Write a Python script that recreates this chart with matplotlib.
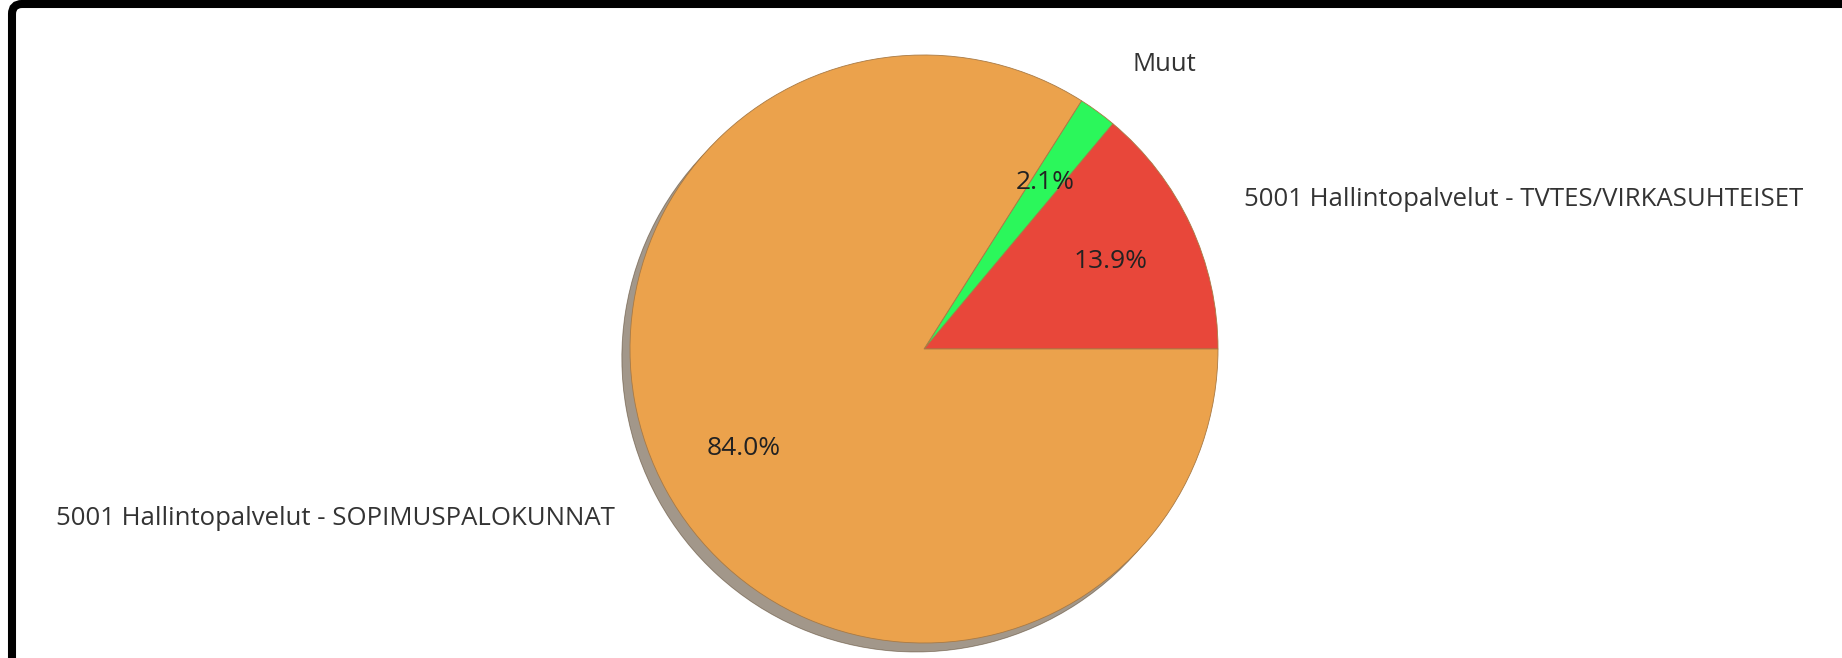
import matplotlib
matplotlib.use("Agg")
import matplotlib.pyplot as plt
from matplotlib.patches import FancyBboxPatch

# Data
labels = ["5001 Hallintopalvelut - TVTES/VIRKASUHTEISET", "Muut",
          "5001 Hallintopalvelut - SOPIMUSPALOKUNNAT"]
shares = [13.9, 2.1, 84.0]
colors = ["#E8473A", "#2BF75B", "#EBA24C"]

plt.rcParams["font.family"] = ["Open Sans", "DejaVu Sans"]

fig = plt.figure(figsize=(18.42, 6.58), dpi=100)
W, H = 1842, 658

# pie centre and radius in pixels
cx, cy, r = 924, 349, 294
span = 1.25
ax = fig.add_axes([(cx - span * r) / W, (H - cy - span * r) / H,
                   2 * span * r / W, 2 * span * r / H])

wedges, texts, autotexts = ax.pie(
    shares, labels=labels, colors=colors, startangle=0, counterclock=True,
    autopct="%1.1f%%", pctdistance=0.7, labeldistance=1.2,
    shadow={"ox": -0.02, "oy": -0.022, "shade": 0.7},
    wedgeprops={"edgecolor": "#a87a45", "linewidth": 0.6},
    textprops={"fontsize": 18.5, "color": "#333333"})
for t in autotexts:
    t.set_color("#222222")
    t.set_fontsize(19)
ax.set_xlim(-span, span)
ax.set_ylim(-span, span)
ax.set_aspect("equal")
ax.axis("off")

# black frame, left and top edges visible
frame = FancyBboxPatch((0.12, -1.0), 20, 6.54 + 1.0,
                       boxstyle="round,pad=0,rounding_size=0.1",
                       transform=fig.dpi_scale_trans, facecolor="none",
                       edgecolor="black", linewidth=5.8)
fig.patches.append(frame)

fig.savefig("out.png", dpi=100)
